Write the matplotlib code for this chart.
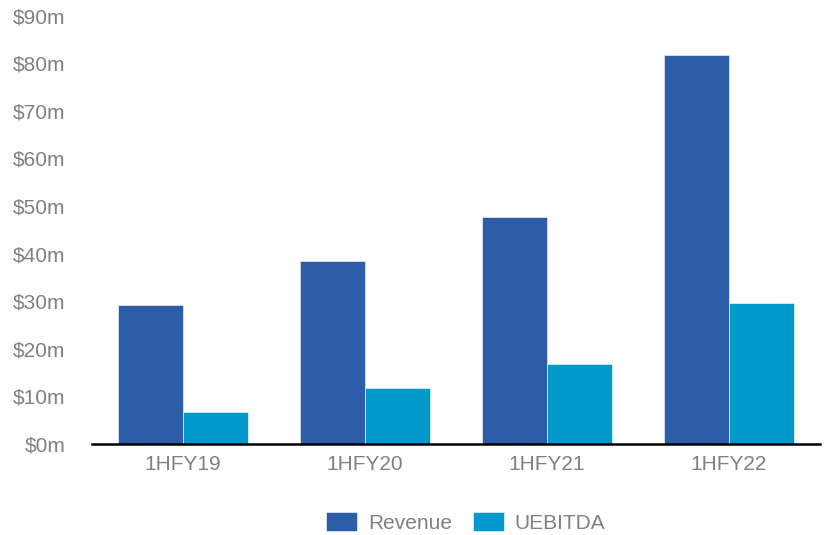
import matplotlib.pyplot as plt
import numpy as np

plt.rcParams['font.family'] = ['Liberation Sans', 'DejaVu Sans']

# half-year results, $m
periods = ["1HFY19", "1HFY20", "1HFY21", "1HFY22"]
revenue = [29.2, 38.4, 47.6, 81.8]
uebitda = [6.8, 11.8, 16.8, 29.7]

rev_color = "#2D5DA8"
ebitda_color = "#0099CB"
grey = "#808080"

fig = plt.figure(figsize=(8.27, 5.35), dpi=100)
ax = fig.add_axes([0.111, 0.170, 0.8805, 0.801])

x = np.arange(len(periods))
w = 0.357
ax.bar(x - w / 2, revenue, w, color=rev_color, label="Revenue", edgecolor="white", linewidth=0.4)
ax.bar(x + w / 2, uebitda, w, color=ebitda_color, label="UEBITDA", edgecolor="white", linewidth=0.4)

ax.set_xlim(-0.5, len(periods) - 0.5)
ax.set_ylim(0, 90)
ax.set_yticks(np.arange(0, 91, 10))
ax.set_yticklabels(["$%dm" % v for v in range(0, 91, 10)])
ax.set_xticks(x)
ax.set_xticklabels(periods)

for s in ["top", "right", "left"]:
    ax.spines[s].set_visible(False)
ax.spines["bottom"].set_color("black")
ax.spines["bottom"].set_linewidth(1.8)
ax.tick_params(axis="both", length=0, labelsize=15, labelcolor=grey)
ax.tick_params(axis="y", pad=19)
ax.tick_params(axis="x", pad=8)

leg = fig.legend(loc="center", bbox_to_anchor=(0.563, 0.024), ncol=2, frameon=False,
                 fontsize=15, handlelength=1.5, handleheight=1.05,
                 handletextpad=0.5, columnspacing=1.0)
for t in leg.get_texts():
    t.set_color(grey)

fig.savefig("out.png", dpi=100)
